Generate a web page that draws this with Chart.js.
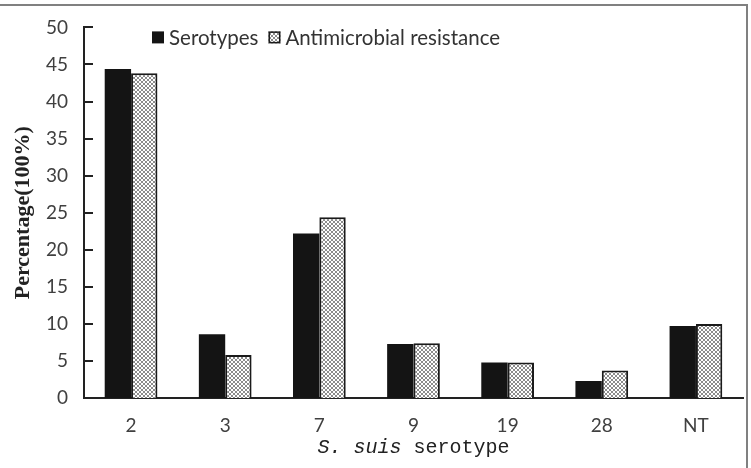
<!DOCTYPE html>
<html>
<head>
<meta charset="utf-8">
<script src="https://cdn.jsdelivr.net/npm/chart.js@4"></script>
<style>
  html, body { margin: 0; padding: 0; background: #fff; }
  #wrap { position: relative; width: 751px; height: 468px; }
  #frame { position: absolute; left: 0; top: 4px; width: 746px; height: 464px;
           border-top: 2px solid #808080; border-right: 2px solid #808080; pointer-events: none; }
  canvas { display: block; }
</style>
</head>
<body>
<div id="wrap">
  <canvas id="c" width="751" height="468"></canvas>
  <div id="frame"></div>
</div>
<script>
const categories = ['2', '3', '7', '9', '19', '28', 'NT'];
const serotypes = [44.4, 8.6, 22.2, 7.3, 4.8, 2.3, 9.7];
const antimicrobial = [43.8, 5.8, 24.4, 7.4, 4.8, 3.7, 10.0];
const seriesNames = ['Serotypes', 'Antimicrobial resistance'];
const yTitle = 'Percentage(100%)';
const xTitleItalic = 'S. suis';
const xTitleRest = ' serotype';

function makePattern() {
  const p = document.createElement('canvas');
  p.width = 4; p.height = 4;
  const g = p.getContext('2d');
  g.fillStyle = '#ffffff';
  g.fillRect(0, 0, 4, 4);
  g.fillStyle = '#8c8c8c';
  const pts = [[0,0],[1,1],[2,2],[3,3],[3,0],[2,1],[1,2],[0,3]];
  pts.forEach(([x, y]) => g.fillRect(x, y, 1, 1));
  return document.getElementById('c').getContext('2d').createPattern(p, 'repeat');
}
const hatch = makePattern();

const extras = {
  id: 'extras',
  afterDraw(chart) {
    const y = chart.scales.y;
    const x = chart.scales.x;
    const ca = chart.chartArea;
    const ctx = chart.ctx;
    ctx.save();
    // inward tick marks on the y axis
    ctx.strokeStyle = '#222';
    ctx.lineWidth = 2;
    y.ticks.forEach((t, i) => {
      const py = Math.round(y.getPixelForTick(i));
      ctx.beginPath();
      ctx.moveTo(y.right, py);
      ctx.lineTo(y.right + 9, py);
      ctx.stroke();
    });
    // legend (horizontal, inside the plot area)
    ctx.font = '20.5px Lato';
    ctx.textBaseline = 'middle';
    ctx.textAlign = 'left';
    let lx = ca.left + 68;
    const ly = ca.top + 10;
    chart.data.datasets.forEach((ds) => {
      ctx.fillStyle = ds.backgroundColor;
      ctx.fillRect(lx, ly - 6, 12, 12);
      if (ds.borderWidth) {
        ctx.strokeStyle = ds.borderColor;
        ctx.lineWidth = 1.5;
        ctx.strokeRect(lx + 0.75, ly - 5.25, 10.5, 10.5);
      }
      ctx.fillStyle = '#333';
      ctx.fillText(ds.label, lx + 17, ly + 1);
      lx += 17 + ctx.measureText(ds.label).width + 10;
    });
    // x axis title with mixed styles
    const fItal = 'italic 20px "Liberation Mono"';
    const fReg = '20px "Liberation Mono"';
    ctx.font = fItal; const w1 = ctx.measureText(xTitleItalic).width;
    ctx.font = fReg; const w2 = ctx.measureText(xTitleRest).width;
    const sx = (ca.left + ca.right) / 2 - (w1 + w2) / 2;
    const ty = x.bottom - 20;
    ctx.fillStyle = '#222';
    ctx.font = fItal; ctx.fillText(xTitleItalic, sx, ty);
    ctx.font = fReg; ctx.fillText(xTitleRest, sx + w1, ty);
    ctx.restore();
  }
};

new Chart(document.getElementById('c'), {
  type: 'bar',
  data: {
    labels: categories,
    datasets: [
      { label: seriesNames[0], data: serotypes, backgroundColor: '#141414', borderColor: '#141414', borderWidth: 0 },
      { label: seriesNames[1], data: antimicrobial, backgroundColor: hatch, borderColor: '#1a1a1a', borderWidth: 2 }
    ]
  },
  options: {
    responsive: false,
    animation: false,
    devicePixelRatio: 1,
    layout: { padding: { left: 0, right: 8, top: 19, bottom: 0 } },
    datasets: { bar: { categoryPercentage: 0.56, barPercentage: 1.0 } },
    plugins: {
      legend: { display: false },
      tooltip: { enabled: false }
    },
    scales: {
      x: {
        grid: { display: false, drawTicks: false },
        border: { display: true, color: '#222', width: 2 },
        ticks: { color: '#404040', padding: 16, font: { family: 'Lato', size: 19 } },
        afterFit(s) { s.height = 70; }
      },
      y: {
        min: 0, max: 50,
        grid: { display: false, drawTicks: false },
        border: { display: true, color: '#222', width: 2 },
        ticks: { stepSize: 5, color: '#404040', padding: 16, font: { family: 'Lato', size: 19 } },
        title: { display: true, text: yTitle, color: '#222', padding: { top: 10, bottom: 0 },
                 font: { family: 'Liberation Serif', size: 22, weight: 'bold' } },
        afterFit(s) { s.width = 84; }
      }
    }
  },
  plugins: [extras]
});
</script>
</body>
</html>
